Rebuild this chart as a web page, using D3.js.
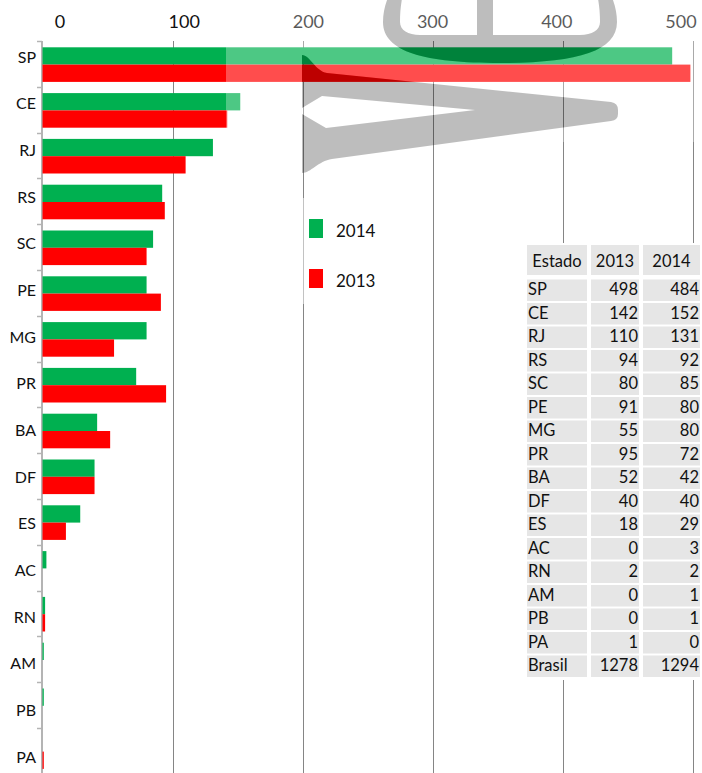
<!DOCTYPE html>
<meta charset="utf-8">

<head>
    <style>
        body {
            margin: 0;
            background: white;
        }

        svg {
            display: block;
        }

        text {
            font-family: Lato, sans-serif;
            fill: #111;
        }
    </style>
    <script src="https://d3js.org/d3.v7.min.js"></script>
</head>

<body>
    <script>
        const width = 702
        const height = 773

        const estados = ["SP", "CE", "RJ", "RS", "SC", "PE", "MG", "PR", "BA", "DF", "ES", "AC", "RN", "AM", "PB", "PA"]
        const v2013 = [498, 142, 110, 94, 80, 91, 55, 95, 52, 40, 18, 0, 2, 0, 0, 1]
        const v2014 = [484, 152, 131, 92, 85, 80, 80, 72, 42, 40, 29, 3, 2, 1, 1, 0]
        const brasil = [1278, 1294]
        const xTicks = [0, 100, 200, 300, 400, 500]
        const series = [
            { name: "2014", values: v2014, color: "#00b050" },
            { name: "2013", values: v2013, color: "#ff0000" }
        ]

        const xScale = d3.scaleLinear().domain([0, 500]).range([42.5, 693])
        const xLabel = d3.scaleLinear().domain([0, 500]).range([60, 681])

        const yScale = d3.scaleBand().domain(estados).range([41, 41 + 16 * 45.8])
        const yLabel = d3.scalePoint().domain(estados).range([57, 757])

        const barH = 17.3
        const barOff = 6.3

        const svg = d3.select("body").append("svg")
            .attr("width", width)
            .attr("height", height)

        const glyph = "M383,22 C383,-20 430,-70 500,-70 C570,-70 617,-20 617,22 C617,52 575,63 500,63 C425,63 383,52 383,22 Z" +
            "M400,22 C400,0 405,-20 415,-40 L477,-40 L477,35 L420,35 C408,35 400,30 400,22 Z" +
            "M493,-40 L585,-40 C595,-20 600,0 600,22 C600,30 592,35 580,35 L493,35 Z" +
            "M302,55 C310,55 315,71 327,73 L611,102 Q618,103 618,110 L618,114 Q618,120 611,121 L332,159 C318,161 311,173 302,173 Z" +
            "M302,108 L322,96 L475,110 L326,128 L302,114 Z"

        const mask = svg.append("defs").append("mask").attr("id", "wm")
        mask.append("rect").attr("x", 0).attr("y", 0).attr("width", width).attr("height", height).attr("fill", "white")
        mask.append("path").attr("d", glyph).attr("fill", "black").attr("fill-rule", "evenodd")

        // grid
        svg.selectAll(".grid")
            .data(xTicks.slice(1))
            .enter()
            .append("line")
            .attr("class", "grid")
            .attr("x1", d => Math.round(xScale(d)) + 0.5)
            .attr("x2", d => Math.round(xScale(d)) + 0.5)
            .attr("y1", 41)
            .attr("y2", height)
            .attr("stroke", "#858585")
            .attr("stroke-width", 1)

        svg.append("line")
            .attr("x1", 42).attr("x2", 42)
            .attr("y1", 41).attr("y2", height)
            .attr("stroke", "#b4b4b4")
            .attr("stroke-width", 2)

        svg.selectAll(".ytick")
            .data(estados)
            .enter()
            .append("line")
            .attr("class", "ytick")
            .attr("x1", 37).attr("x2", 42)
            .attr("y1", d => Math.round(yScale(d)) + 0.5)
            .attr("y2", d => Math.round(yScale(d)) + 0.5)
            .attr("stroke", "#b4b4b4")
            .attr("stroke-width", 1.5)

        svg.selectAll(".xlabel")
            .data(xTicks)
            .enter()
            .append("text")
            .attr("class", "xlabel")
            .attr("x", d => xLabel(d))
            .attr("y", 28)
            .attr("text-anchor", "middle")
            .style("font-size", "18px")
            .text(d => d)

        series.forEach((s, k) => {
            svg.selectAll(".bar" + s.name)
                .data(estados)
                .enter()
                .append("rect")
                .attr("class", "bar" + s.name)
                .attr("x", xScale(0))
                .attr("y", d => yScale(d) + barOff + k * barH)
                .attr("width", (d, i) => xScale(s.values[i]) - xScale(0))
                .attr("height", barH)
                .attr("fill", s.color)
        })

        svg.selectAll(".ylabel")
            .data(estados)
            .enter()
            .append("text")
            .attr("class", "ylabel")
            .attr("x", 36)
            .attr("y", d => yLabel(d) + 5.6)
            .attr("text-anchor", "end")
            .style("font-size", "16px")
            .text(d => d)

        // light box and watermark
        svg.append("rect")
            .attr("x", 226).attr("y", 0)
            .attr("width", width - 226).attr("height", 142)
            .attr("fill", "white")
            .attr("fill-opacity", 0.3)
            .attr("mask", "url(#wm)")

        svg.append("path")
            .attr("d", glyph)
            .attr("fill", "black")
            .attr("fill-opacity", 0.26)
            .attr("fill-rule", "evenodd")

        // legend
        svg.append("rect")
            .attr("x", 296).attr("y", 198)
            .attr("width", 100).attr("height", 106)
            .attr("fill", "white")
            .attr("fill-opacity", 0.5)

        const legend = svg.selectAll(".legend")
            .data(series)
            .enter()
            .append("g")
            .attr("class", "legend")
            .attr("transform", (d, i) => "translate(309," + (219 + i * 50) + ")")

        legend.append("rect")
            .attr("width", 14)
            .attr("height", 19)
            .attr("fill", d => d.color)

        legend.append("text")
            .attr("x", 27)
            .attr("y", 18)
            .style("font-size", "17px")
            .text(d => d.name)

        // table
        const cols = [{ x: 527, w: 60 }, { x: 591, w: 48 }, { x: 643, w: 57 }]
        const rowStep = 23.5
        const rows = estados.map((e, i) => [e, v2013[i], v2014[i]])
        rows.push(["Brasil", brasil[0], brasil[1]])

        const table = svg.append("g")

        table.append("rect")
            .attr("x", 522).attr("y", 243)
            .attr("width", width - 522).attr("height", 437)
            .attr("fill", "white")

        const header = ["Estado", "2013", "2014"]
        table.selectAll(".hcell")
            .data(header)
            .enter()
            .append("rect")
            .attr("class", "hcell")
            .attr("x", (d, j) => cols[j].x)
            .attr("y", 245)
            .attr("width", (d, j) => cols[j].w)
            .attr("height", 30)
            .attr("fill", "#e6e6e6")

        table.selectAll(".htext")
            .data(header)
            .enter()
            .append("text")
            .attr("class", "htext")
            .attr("x", (d, j) => cols[j].x + cols[j].w / 2)
            .attr("y", 267)
            .attr("text-anchor", "middle")
            .style("font-size", "16.5px")
            .text(d => d)

        const tr = table.selectAll(".row")
            .data(rows)
            .enter()
            .append("g")
            .attr("class", "row")
            .attr("transform", (d, i) => "translate(0," + (279.5 + i * rowStep) + ")")

        tr.selectAll("rect")
            .data(d => d)
            .enter()
            .append("rect")
            .attr("x", (d, j) => cols[j].x)
            .attr("width", (d, j) => cols[j].w)
            .attr("height", 21.5)
            .attr("fill", "#e6e6e6")

        tr.selectAll("text")
            .data(d => d)
            .enter()
            .append("text")
            .attr("x", (d, j) => j == 0 ? cols[j].x + 1 : cols[j].x + cols[j].w - 1)
            .attr("y", 15.5)
            .attr("text-anchor", (d, j) => j == 0 ? "start" : "end")
            .style("font-size", "16.5px")
            .text(d => d)
    </script>
</body>
